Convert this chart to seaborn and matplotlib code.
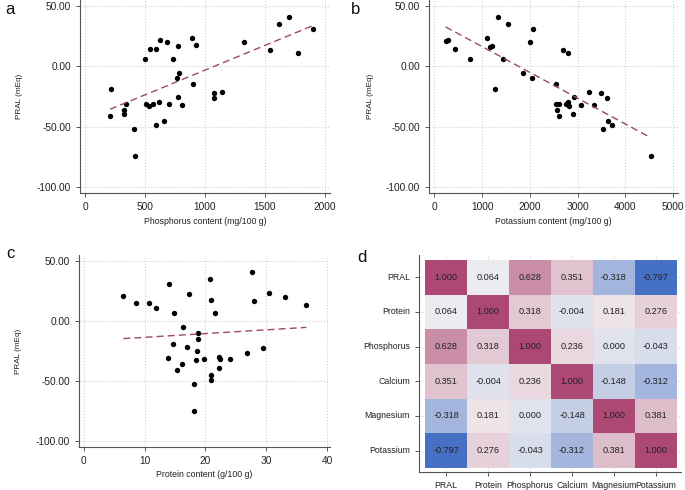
import numpy as np
import pandas as pd
import matplotlib
matplotlib.use("Agg")
import matplotlib.pyplot as plt
import seaborn as sns
from matplotlib.colors import LinearSegmentedColormap

# ──────────────────────────────────────────────
# Data
# ──────────────────────────────────────────────
phos_x = [208, 217, 328, 328, 339, 406, 417, 497, 506, 531, 539, 569, 589, 594,
          614, 622, 656, 681, 697, 733, 769, 772, 775, 786, 808, 894, 903, 922,
          1072, 1072, 1139, 1325, 1539, 1614, 1697, 1778, 1897]
phos_y = [-41.4, -19.1, -36.2, -39.8, -31.5, -52.2, -74.0, 6.4, -31.5, -32.9, 14.4,
          -31.5, 14.4, -48.9, -29.8, 21.8, -45.0, 20.4, -31.5, 6.4, -9.7, 16.6,
          -25.4, -5.2, -31.8, 23.2, -14.9, 17.4, -22.4, -26.5, -21.3, 19.9, 13.8,
          35.1, 41.2, 11.0, 30.7]

pot_x = [237, 293, 425, 739, 1109, 1172, 1213, 1276, 1325, 1444, 1541, 1855, 2002,
         2050, 2064, 2546, 2539, 2573, 2615, 2615, 2692, 2755, 2790, 2797, 2811,
         2894, 2915, 3062, 3236, 3334, 3487, 3529, 3620, 3627, 3710, 4526]
pot_y = [20.7, 21.5, 14.4, 6.4, 23.2, 16.0, 17.1, -19.1, 41.2, 6.4, 35.1, -5.2,
         19.9, -9.7, 30.7, -14.9, -31.5, -36.2, -31.5, -41.4, 13.8, -31.5, -29.8,
         11.0, -32.9, -39.5, -25.4, -31.8, -21.3, -31.8, -22.4, -52.2, -26.5,
         -45.0, -48.9, -74.0]

prot_x = [6.5, 8.6, 10.8, 11.9, 14.0, 13.8, 14.6, 14.9, 15.4, 16.2, 16.3, 16.9,
          17.3, 18.1, 18.1, 18.5, 18.6, 18.7, 18.8, 19.8, 20.8, 20.9, 21.0, 21.0,
          21.6, 22.2, 22.3, 22.4, 24.0, 26.8, 27.7, 28.0, 29.5, 30.4, 33.1, 36.6]
prot_y = [20.7, 14.6, 14.6, 10.8, 30.7, -31.2, -19.1, 6.4, -41.2, -36.2, -5.2,
          -21.3, 22.1, -75.1, -52.2, -32.6, -25.4, -9.7, -14.9, -31.8, 35.1, -48.9,
          -45.0, 17.4, 6.4, -39.5, -29.8, -31.5, -31.8, -26.5, 41.2, 16.6, -22.4,
          23.2, 19.6, 13.5]

corr_labels = ["PRAL", "Protein", "Phosphorus", "Calcium", "Magnesium", "Potassium"]
corr_pral = [1.000, 0.064, 0.628, 0.351, -0.318, -0.797]
corr_protein = [0.064, 1.000, 0.318, -0.004, 0.181, 0.276]
corr_phosphorus = [0.628, 0.318, 1.000, 0.236, 0.000, -0.043]
corr_calcium = [0.351, -0.004, 0.236, 1.000, -0.148, -0.312]
corr_magnesium = [-0.318, 0.181, 0.000, -0.148, 1.000, 0.381]
corr_potassium = [-0.797, 0.276, -0.043, -0.312, 0.381, 1.000]

y_ticks = [50, 0, -50, -100]

# ──────────────────────────────────────────────
# Style
# ──────────────────────────────────────────────
sns.set_style("white")
plt.rcParams["font.family"] = ["Liberation Sans", "DejaVu Sans"]
plt.rcParams["axes.unicode_minus"] = False

SPINE = "#555555"
LINE = "#9c4a5c"
TEXT = "#222222"
FS = 7.3

fig = plt.figure(figsize=(6.85, 4.90), dpi=100)
W, H = 685.0, 490.0


def add_axes(x0, y0, x1, y1):
    return fig.add_axes([x0 / W, 1 - y1 / H, (x1 - x0) / W, (y1 - y0) / H])


def style_axes(ax, size=FS):
    for side in ["top", "right"]:
        ax.spines[side].set_visible(False)
    for side in ["left", "bottom"]:
        ax.spines[side].set_visible(True)
        ax.spines[side].set_color(SPINE)
        ax.spines[side].set_linewidth(0.8)
    ax.tick_params(axis="both", which="major", direction="out", length=3,
                   width=0.7, color=SPINE, labelsize=size, labelcolor=TEXT,
                   bottom=True, left=True)


def scatter_panel(ax, x, y, xlim, xticks, xlabel, letter, letter_pos, ylab_x):
    ax.grid(True, linestyle=":", color="#cfcfcf", linewidth=0.8)
    ax.set_axisbelow(True)
    sns.regplot(x=np.array(x), y=np.array(y), ax=ax, ci=None,
                scatter_kws={"s": 15, "color": "black", "linewidths": 0, "alpha": 1},
                line_kws={"color": LINE, "linestyle": (0, (5, 3)), "linewidth": 1.0})
    ax.set_xlim(*xlim)
    ax.set_ylim(-105, 55)
    ax.set_xticks(xticks)
    ax.set_yticks(y_ticks)
    ax.set_yticklabels([f"{v:.2f}" for v in y_ticks])
    ax.set_xlabel(xlabel, fontsize=6.3, color=TEXT)
    ax.set_ylabel("PRAL (mEq)", fontsize=5.9, color=TEXT)
    ax.xaxis.set_label_coords(0.5, -0.122)
    ax.yaxis.set_label_coords(ylab_x, 0.5)
    style_axes(ax)
    fig.text(letter_pos[0] / W, 1 - letter_pos[1] / H, letter, fontsize=12,
             ha="left", va="center", color="#111111")


ax_a = add_axes(80, 0, 330, 193)
scatter_panel(ax_a, phos_x, phos_y, (-42, 2042), [0, 500, 1000, 1500, 2000],
              "Phosphorus content (mg/100 g)", "a", (5, 9), -0.228)

ax_b = add_axes(429, 0, 678, 193)
scatter_panel(ax_b, pot_x, pot_y, (-110, 5100), [0, 1000, 2000, 3000, 4000, 5000],
              "Potassium content (mg/100 g)", "b", (351, 9), -0.221)

ax_c = add_axes(79, 255, 330, 447)
scatter_panel(ax_c, prot_x, prot_y, (-0.8, 40.5), [0, 10, 20, 30, 40],
              "Protein content (g/100 g)", "c", (6, 254), -0.227)

# ──────────────────────────────────────────────
# Correlation heatmap
# ──────────────────────────────────────────────
corr = pd.DataFrame([corr_pral, corr_protein, corr_phosphorus, corr_calcium,
                     corr_magnesium, corr_potassium],
                    index=corr_labels, columns=corr_labels)
cmap = LinearSegmentedColormap.from_list(
    "pral", ["#4670c4", "#f4f2f2", "#ac4873"])

ax_d = add_axes(419, 255, 681, 472)
ax_d.grid(True, linestyle=":", color="#cfcfcf", linewidth=0.8)
ax_d.set_axisbelow(True)
sns.heatmap(corr, ax=ax_d, cmap=cmap, vmin=corr.values.min(), vmax=corr.values.max(),
            annot=True, fmt=".3f", cbar=False, linewidths=0,
            annot_kws={"fontsize": 6.6, "color": TEXT})
ax_d.set_xlim(-0.15, 6.1)
ax_d.set_ylim(6.12, -0.14)
ax_d.set_xticklabels(corr_labels, rotation=0)
ax_d.set_yticklabels(corr_labels, rotation=0)
ax_d.set_xlabel("")
ax_d.set_ylabel("")
style_axes(ax_d, size=6.3)
fig.text(357 / W, 1 - 258 / H, "d", fontsize=12, ha="left", va="center",
         color="#111111")

fig.savefig("out.png", dpi=100)
